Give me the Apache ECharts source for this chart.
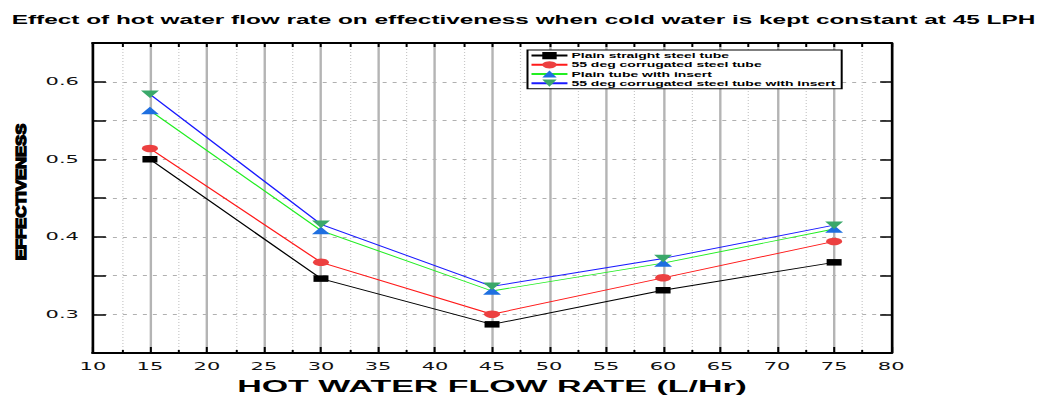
<!DOCTYPE html>
<html>
<head>
<meta charset="utf-8">
<script src="https://cdn.jsdelivr.net/npm/echarts@6/dist/echarts.min.js"></script>
<style>
  html, body { margin: 0; padding: 0; background: #fff; }
  #wrap { width: 1047px; height: 400px; overflow: hidden; }
  /* the plot is laid out at half width and stretched horizontally */
  #chart { width: 524px; height: 400px; transform: scaleX(1.998092); transform-origin: 0 0; }
</style>
</head>
<body>
<div id="wrap"><div id="chart"></div></div>
<script>
// Hot water flow rate (L/Hr)
const flowRates = [15, 30, 45, 60, 75];

// Effectiveness for each tube configuration
const plainStraight = [0.500, 0.346, 0.287, 0.331, 0.367];
const corrugated55 = [0.514, 0.367, 0.300, 0.347, 0.394];
const plainInsert = [0.563, 0.408, 0.330, 0.366, 0.410];
const corrugated55Insert = [0.584, 0.416, 0.336, 0.372, 0.415];

const seriesNames = [
  'Plain straight steel tube',
  '55 deg corrugated steel tube',
  'Plain tube with insert',
  '55 deg corrugated steel tube with insert'
];

const yTickValues = [0.3, 0.4, 0.5, 0.6];

function pairs(ys) { return flowRates.map((x, i) => [x, ys[i]]); }

const chart = echarts.init(document.getElementById('chart'), null, { renderer: 'svg' });

const tickFont = { fontFamily: 'DejaVu Sans', fontSize: 10.5, color: '#111' };

function makeSeries(name, ys, lineColor, markColor, symbol, size, rotate) {
  return {
    name: name,
    type: 'line',
    data: pairs(ys),
    symbol: symbol,
    symbolSize: size,
    symbolRotate: rotate || 0,
    showAllSymbol: true,
    lineStyle: { color: lineColor, width: 0.9 },
    itemStyle: { color: markColor, borderWidth: 0 },
    emphasis: { disabled: true }
  };
}

chart.setOption({
  animation: false,
  backgroundColor: '#fff',
  title: {
    text: 'Effect of hot water flow rate on effectiveness when cold water is kept constant at 45 LPH',
    left: 'center',
    top: 9,
    textStyle: { fontFamily: 'Liberation Sans, Arial', fontWeight: 'bold', fontSize: 12.2, color: '#000' }
  },
  legend: {
    orient: 'vertical',
    left: 264,
    top: 50,
    backgroundColor: '#fff',
    borderColor: '#000',
    borderWidth: 1,
    padding: [2, 3, 2, 1],
    itemWidth: 18,
    itemHeight: 9,
    itemGap: 2,
    textStyle: { fontFamily: 'Liberation Sans, Arial', fontWeight: 'bold', fontSize: 7, color: '#000', padding: [0, 0, 0, -3] },
    data: seriesNames
  },
  grid: { left: 46.5, right: 78, top: 43, bottom: 47 },
  xAxis: [
    {
      type: 'value', min: 10, max: 80, interval: 5,
      name: 'HOT WATER FLOW RATE (L/Hr)',
      nameLocation: 'middle',
      nameGap: 25,
      nameTextStyle: { fontFamily: 'Liberation Sans, Arial', fontWeight: 'bold', fontSize: 17, color: '#000' },
      axisLine: { show: true, onZero: false, lineStyle: { color: '#000', width: 2 } },
      axisTick: { show: true, inside: true, length: 6, lineStyle: { color: '#000', width: 1 } },
      minorTick: { show: true, splitNumber: 2, length: 3, lineStyle: { color: '#000', width: 1 } },
      axisLabel: Object.assign({ margin: 8 }, tickFont),
      splitLine: { show: true, lineStyle: { color: '#b4b4b4', width: 1.2 } },
      minorSplitLine: { show: true, lineStyle: { color: '#c8c8c8', width: 0.6, type: [1, 2] } }
    },
    {
      type: 'value', min: 10, max: 80, interval: 5, position: 'top',
      axisLine: { show: true, onZero: false, lineStyle: { color: '#000', width: 2 } },
      axisTick: { show: true, inside: true, length: 4, lineStyle: { color: '#000', width: 1 } },
      minorTick: { show: true, splitNumber: 2, length: 4, lineStyle: { color: '#000', width: 1 } },
      axisLabel: { show: false },
      splitLine: { show: false }
    }
  ],
  yAxis: [
    {
      type: 'value', min: 0.25, max: 0.65, interval: 0.05,
      axisLine: { show: true, onZero: false, lineStyle: { color: '#000', width: 1.3 } },
      axisTick: { show: true, inside: true, length: 6.5, lineStyle: { color: '#000', width: 1.5 } },
      axisLabel: Object.assign({
        margin: 7,
        formatter: function (v) {
          const hit = yTickValues.find(t => Math.abs(t - v) < 1e-6);
          return hit === undefined ? '' : hit.toFixed(1);
        }
      }, tickFont),
      splitLine: { show: true, lineStyle: { color: '#b0b0b0', width: 1, type: [2, 3] } }
    },
    {
      type: 'value', min: 0.25, max: 0.65, interval: 0.05, position: 'right',
      axisLine: { show: true, onZero: false, lineStyle: { color: '#000', width: 1.3 } },
      axisTick: { show: true, inside: true, length: 5.5, lineStyle: { color: '#000', width: 1.5 } },
      axisLabel: { show: false },
      splitLine: { show: false }
    }
  ],
  graphic: [
    {
      type: 'text',
      x: 10.5,
      y: 192,
      rotation: Math.PI / 2,
      scaleY: 0.42,
      style: {
        text: 'EFFECTIVENESS',
        font: 'bold 16.6px "Liberation Sans", Arial',
        fill: '#000',
        stroke: '#000',
        lineWidth: 1.6,
        textAlign: 'center',
        textVerticalAlign: 'middle',
        verticalAlign: 'middle'
      }
    }
  ],
  series: [
    makeSeries(seriesNames[0], plainStraight, '#000000', '#000000', 'rect', [7.5, 6.5]),
    makeSeries(seriesNames[1], corrugated55, '#ff1a1a', '#ec4040', 'circle', [8, 7.5]),
    makeSeries(seriesNames[2], plainInsert, '#22ee22', '#1e6fe0', 'triangle', [9, 7.5]),
    makeSeries(seriesNames[3], corrugated55Insert, '#1a1aff', '#3aa86a', 'triangle', [9, 7.5], 180)
  ]
});
</script>
</body>
</html>
